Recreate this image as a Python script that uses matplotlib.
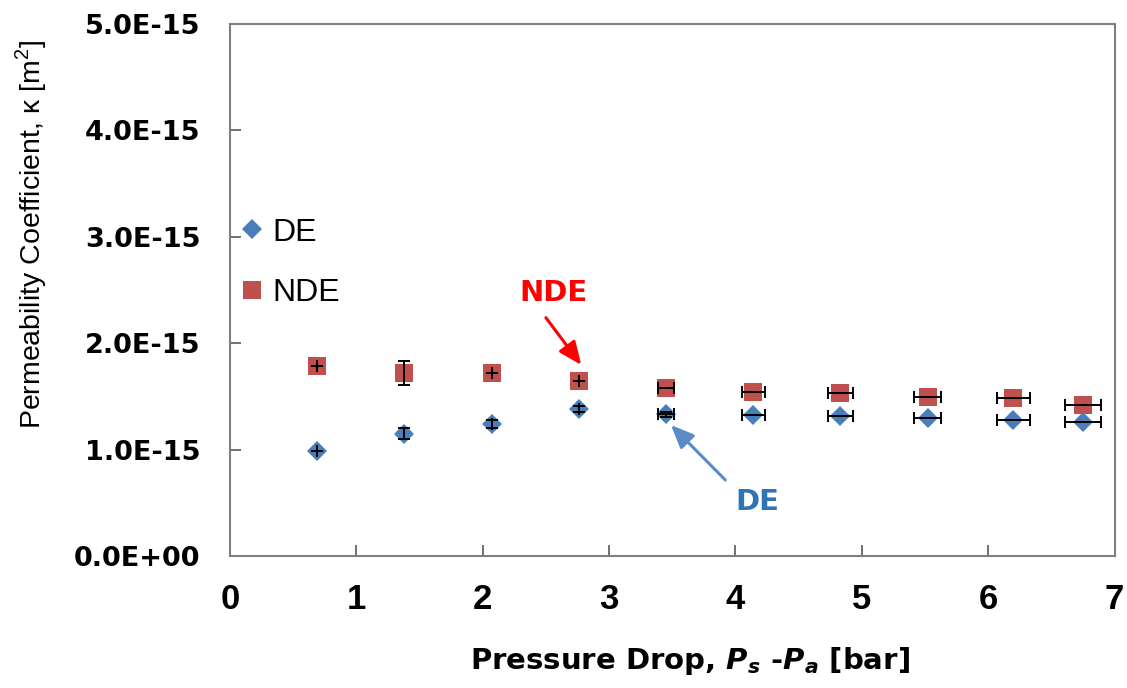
import matplotlib
matplotlib.use("Agg")
import matplotlib.pyplot as plt
from matplotlib.ticker import FuncFormatter

plt.rcParams['font.family'] = ['Liberation Sans', 'DejaVu Sans']
plt.rcParams['mathtext.fontset'] = 'custom'
plt.rcParams['mathtext.rm'] = 'Liberation Sans'
plt.rcParams['mathtext.it'] = 'DejaVu Sans:italic'
plt.rcParams['mathtext.bf'] = 'DejaVu Sans:bold'
plt.rcParams['mathtext.bfit'] = 'DejaVu Sans:bold:italic'

# data
dp = [0.69, 1.38, 2.07, 2.76, 3.45, 4.14, 4.83, 5.52, 6.20, 6.75]
dp_err = [0.0, 0.0, 0.0, 0.0, 0.065, 0.09, 0.10, 0.11, 0.13, 0.14]
k_de = [0.99e-15, 1.15e-15, 1.24e-15, 1.38e-15, 1.33e-15, 1.325e-15, 1.32e-15, 1.30e-15, 1.28e-15, 1.26e-15]
k_de_err = [0.0, 0.05e-15, 0.04e-15, 0.03e-15, 0.02e-15, 0.0, 0.0, 0.0, 0.0, 0.0]
k_nde = [1.786e-15, 1.72e-15, 1.72e-15, 1.645e-15, 1.58e-15, 1.54e-15, 1.53e-15, 1.49e-15, 1.485e-15, 1.42e-15]
k_nde_err = [0.0, 0.11e-15, 0.0, 0.0, 0.0, 0.0, 0.0, 0.0, 0.0, 0.0]

blue = '#4a7ebb'
red = '#c0504d'

fig = plt.figure(figsize=(11.27, 6.88), dpi=100)
ax = fig.add_axes([0.204, 0.192, 0.785, 0.773])

ax.errorbar(dp, k_nde, xerr=dp_err, yerr=k_nde_err, fmt='none', ecolor='black',
            elinewidth=1.4, capsize=4, capthick=1.4, zorder=4)
ax.errorbar(dp, k_de, xerr=dp_err, yerr=k_de_err, fmt='none', ecolor='black',
            elinewidth=1.4, capsize=4, capthick=1.4, zorder=4)
ax.plot(dp, k_de, 'D', color=blue, markersize=10, markeredgewidth=0, label='DE', zorder=3)
ax.plot(dp, k_nde, 's', color=red, markersize=13.5, markeredgewidth=0, label='NDE', zorder=3)

ax.set_xlim(0, 7)
ax.set_ylim(0, 5e-15)
ax.set_xticks(range(0, 8))
ax.set_yticks([i * 1e-15 for i in range(6)])
ax.yaxis.set_major_formatter(FuncFormatter(lambda v, pos: f"{v:.1E}"))
ax.tick_params(direction='in', length=8, width=1.2, color='#595959')
ax.tick_params(axis='x', pad=19.5)
ax.tick_params(axis='y', pad=21)
for lab in ax.get_xticklabels():
    lab.set_fontweight('bold')
    lab.set_fontsize(25)
for lab in ax.get_yticklabels():
    lab.set_family('DejaVu Sans')
    lab.set_fontweight('bold')
    lab.set_fontsize(19.5)
for s in ax.spines.values():
    s.set_color('#7f7f7f')
    s.set_linewidth(1.5)

ax.set_xlabel(r'Pressure Drop, $\mathbfit{P_s}$ -$\mathbfit{P_a}$ [bar]', fontsize=21,
              fontweight='bold', family='DejaVu Sans', va='center')
ax.xaxis.set_label_coords(0.52, -0.197)
ax.set_ylabel(r'Permeability Coefficient, κ [m$^2$]', fontsize=20.5, va='center')
ax.yaxis.set_label_coords(-0.225, 0.605)

ax.legend(loc='upper left', bbox_to_anchor=(0.007, 0.636), frameon=False, fontsize=23,
          labelspacing=0.95, handletextpad=0.13, handlelength=1.0, numpoints=1,
          borderpad=0, borderaxespad=0)

arrow = dict(arrowstyle='-|>,head_width=0.3,head_length=0.7', mutation_scale=20,
             lw=2.2, shrinkA=0, shrinkB=0)
ax.annotate('', xy=(2.78, 1.795e-15), xytext=(2.50, 2.24e-15),
            arrowprops=dict(arrow, color='#ff0000'))
ax.text(2.56, 2.47e-15, 'NDE', color='#ff0000', fontsize=21, fontweight='bold',
        family='DejaVu Sans', ha='center', va='center')
ax.annotate('', xy=(3.49, 1.23e-15), xytext=(3.92, 0.714e-15),
            arrowprops=dict(arrow, color='#5b8ac6'))
ax.text(4.17, 0.51e-15, 'DE', color='#2e75b6', fontsize=21, fontweight='bold',
        family='DejaVu Sans', ha='center', va='center')

fig.savefig('out.png', dpi=100)
